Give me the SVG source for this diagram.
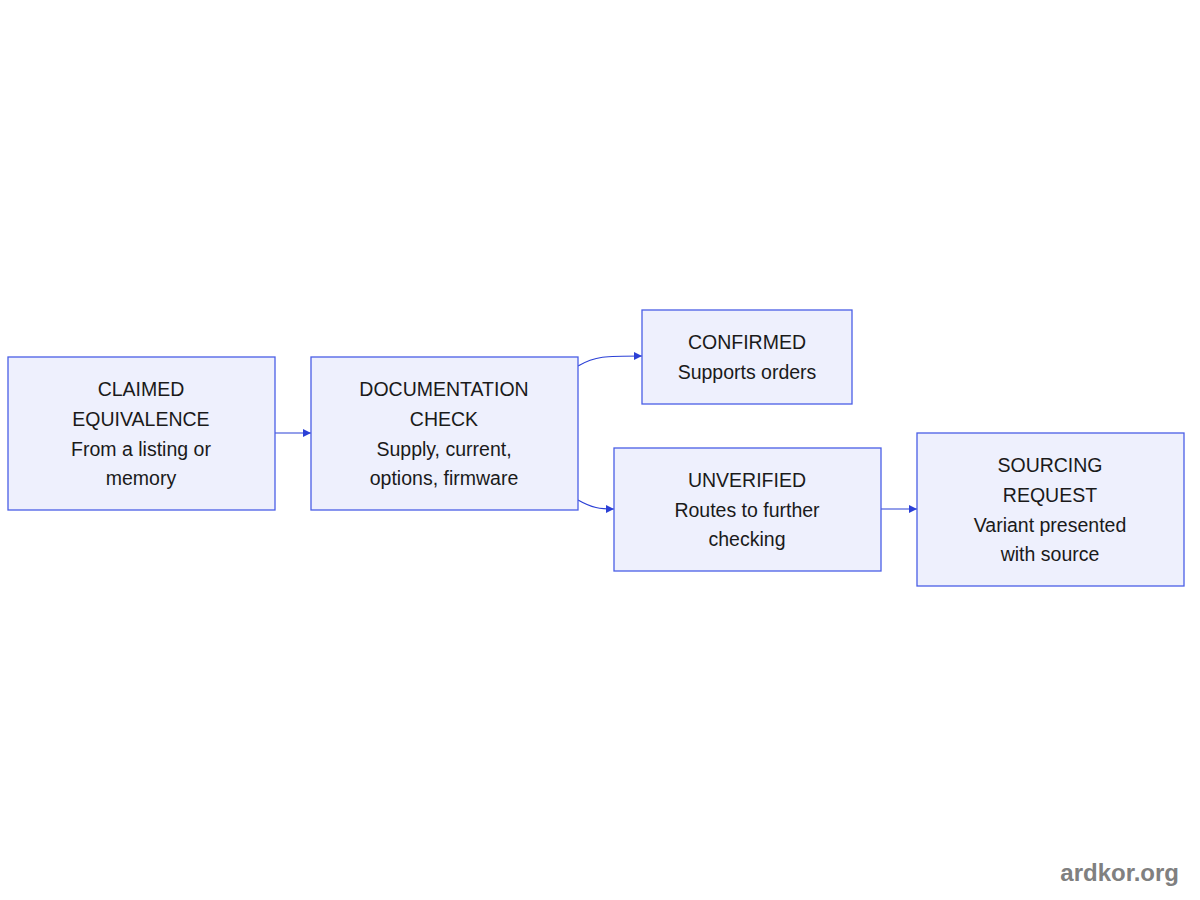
<svg xmlns="http://www.w3.org/2000/svg" width="1200" height="900" viewBox="0 0 1200 900">
<defs>
<style>
.node rect{fill:#eef0fd;stroke:#4a5ee6;stroke-width:1.3}
.node text{font-family:"Liberation Sans",Arial,sans-serif;font-size:19.5px;fill:#1a1a1a;text-anchor:middle}
.edge{fill:none;stroke:#2b40d6;stroke-width:1.2}
</style>
<marker id="ah" viewBox="0 0 10 10" refX="10" refY="5" markerWidth="8" markerHeight="8" markerUnits="userSpaceOnUse" orient="auto">
<path d="M0,0 L10,5 L0,10 z" fill="#2b40d6"/>
</marker>
</defs>
<rect width="1200" height="900" fill="#ffffff"/>
<g id="connectors">
<path class="edge" d="M275,433 L311,433" marker-end="url(#ah)"/>
<path class="edge" d="M578,366 C595,356 605,356 642,356" marker-end="url(#ah)"/>
<path class="edge" d="M578,500 C592,508 600,509 614,509" marker-end="url(#ah)"/>
<path class="edge" d="M881,509 L917,509" marker-end="url(#ah)"/>
</g>
<g id="claimed" class="node">
<rect x="8" y="357" width="267" height="153"/>
<text x="141" y="396">CLAIMED</text>
<text x="141" y="426">EQUIVALENCE</text>
<text x="141" y="456">From a listing or</text>
<text x="141" y="485">memory</text>
</g>
<g id="doccheck" class="node">
<rect x="311" y="357" width="267" height="153"/>
<text x="444" y="396">DOCUMENTATION</text>
<text x="444" y="426">CHECK</text>
<text x="444" y="456">Supply, current,</text>
<text x="444" y="485">options, firmware</text>
</g>
<g id="confirmed" class="node">
<rect x="642" y="310" width="210" height="94"/>
<text x="747" y="349">CONFIRMED</text>
<text x="747" y="379">Supports orders</text>
</g>
<g id="unverified" class="node">
<rect x="614" y="448" width="267" height="123"/>
<text x="747" y="487">UNVERIFIED</text>
<text x="747" y="517">Routes to further</text>
<text x="747" y="546">checking</text>
</g>
<g id="sourcing" class="node">
<rect x="917" y="433" width="267" height="153"/>
<text x="1050" y="472">SOURCING</text>
<text x="1050" y="502">REQUEST</text>
<text x="1050" y="532">Variant presented</text>
<text x="1050" y="561">with source</text>
</g>
<text x="1179" y="881" font-family="Liberation Sans,Arial,sans-serif" font-size="24" font-weight="bold" fill="#808080" text-anchor="end">ardkor.org</text>
</svg>
